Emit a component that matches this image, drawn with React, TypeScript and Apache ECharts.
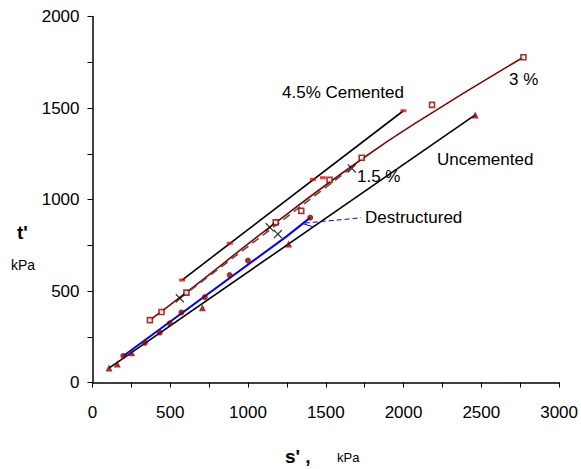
import React, { useEffect, useRef } from "react";
import * as echarts from "echarts";

// s' (kPa), t' (kPa)
const uncementedLine: number[][] = [[106, 79], [2461, 1462]];
const uncementedPoints: number[][] = [[106, 79], [159, 101], [252, 163], [707, 409], [1261, 757], [2461, 1462]];

const cem45Line: number[][] = [[576, 560], [1999, 1485]];
const cem45Points: number[][] = [[576, 560], [883, 761], [1417, 1110], [1481, 1119], [1999, 1485]];

const cem3Line: number[][] = [[369, 341], [600, 490], [1180, 875], [1730, 1220], [2100, 1430], [2770, 1777]];
const cem3Points: number[][] = [[369, 341], [444, 385], [604, 491], [1178, 875], [1342, 938], [1524, 1107], [1731, 1228], [2183, 1517], [2771, 1777]];

const cem15Line: number[][] = [[562, 460], [1660, 1170]];
const cem15Points: number[][] = [[562, 460], [1140, 848], [1192, 811], [1667, 1170]];

const destrLine: number[][] = [[198, 145], [1246, 797], [1400, 901]];
const destrPoints: number[][] = [[198, 145], [337, 217], [433, 273], [497, 323], [572, 383], [722, 466], [882, 587], [1000, 666], [1400, 901]];

const destrLeader: number[][] = [[1365, 871], [1727, 900]];
const destrArrow: number[][] = [[1352, 868], [1417, 851]];

const xTicks = { min: 0, max: 3000, interval: 500 };
const yTicks = { min: 0, max: 2000, interval: 500 };

const FONT = "Liberation Sans, Arial, sans-serif";
const CROSS = "path://M0,1L1,0L5,4L9,0L10,1L6,5L10,9L9,10L5,6L1,10L0,9L4,5Z";

export default function App() {
  const ref = useRef<HTMLDivElement>(null);
  useEffect(() => {
    if (!ref.current) return;
    const chart = echarts.init(ref.current, undefined, { renderer: "svg" });
    const lineS = (data: number[][], color: string, width: number, type: any = "solid", smooth = false) => ({
      type: "line",
      data,
      showSymbol: false,
      symbol: "none",
      smooth,
      lineStyle: { color, width, type },
      silent: true,
      z: 2,
    });
    const scat = (data: number[][], symbol: string, size: any, itemStyle: any) => ({
      type: "scatter",
      data,
      symbol,
      symbolSize: size,
      itemStyle,
      z: 3,
    });
    chart.setOption({
      animation: false,
      backgroundColor: "#fff",
      textStyle: { fontFamily: FONT },
      grid: { left: 92.5, top: 16.5, width: 467.5, height: 366, containLabel: false },
      xAxis: {
        type: "value",
        min: xTicks.min,
        max: xTicks.max,
        interval: xTicks.interval,
        axisLine: { show: true, onZero: false, lineStyle: { color: "#000", width: 1.5 } },
        axisTick: { show: true, length: 5, lineStyle: { color: "#000", width: 1 } },
        minorTick: { show: true, splitNumber: 2, length: 5, lineStyle: { color: "#000", width: 1 } },
        splitLine: { show: false },
        axisLabel: { color: "#000", fontSize: 17, margin: 21, fontFamily: FONT, formatter: (v: number) => String(v) },
      },
      yAxis: {
        type: "value",
        min: yTicks.min,
        max: yTicks.max,
        interval: yTicks.interval,
        axisLine: { show: true, onZero: false, lineStyle: { color: "#000", width: 1.5 } },
        axisTick: { show: true, length: 5, lineStyle: { color: "#000", width: 1 } },
        minorTick: { show: true, splitNumber: 2, length: 5, lineStyle: { color: "#000", width: 1 } },
        splitLine: { show: false },
        axisLabel: { color: "#000", fontSize: 17, margin: 13, fontFamily: FONT, formatter: (v: number) => String(v) },
      },
      series: [
        lineS(uncementedLine, "#000", 1.6),
        lineS(cem45Line, "#000", 1.6),
        lineS(cem3Line, "#8b0000", 1.6, "solid", true),
        lineS(cem15Line, "#555", 1.6, [8, 5]),
        lineS(destrLine, "#0000ff", 2),
        lineS(destrLeader, "#0000ff", 1, [5, 3]),
        lineS(destrArrow, "#0000ff", 1),
        scat(uncementedPoints, "triangle", 7, { color: "#8b0000" }),
        scat(cem45Points, "rect", [6, 3], { color: "#ff0000" }),
        scat(cem3Points, "rect", 5, { color: "#fff", borderColor: "#8b0000", borderWidth: 1.6 }),
        scat(cem15Points, CROSS, 9, { color: "#000" }),
        scat(destrPoints, "circle", 6, { color: "#8b0000" }),
      ],
      graphic: [
        { type: "text", left: 282, top: 84, style: { text: "4.5% Cemented", font: `17px ${FONT}`, fill: "#000" } },
        { type: "text", left: 509, top: 71, style: { text: "3 %", font: `17px ${FONT}`, fill: "#000" } },
        { type: "text", left: 437, top: 151, style: { text: "Uncemented", font: `17px ${FONT}`, fill: "#000" } },
        { type: "text", left: 357, top: 168, style: { text: "1.5 %", font: `17px ${FONT}`, fill: "#000" } },
        { type: "text", left: 365, top: 209, style: { text: "Destructured", font: `17px ${FONT}`, fill: "#000" } },
        { type: "text", left: 17, top: 223, style: { text: "t'", font: `bold 19px ${FONT}`, fill: "#000" } },
        { type: "text", left: 11, top: 258, style: { text: "kPa", font: `14px ${FONT}`, fill: "#000" } },
        { type: "text", left: 285, top: 447, style: { text: "s' ,", font: `bold 19px ${FONT}`, fill: "#000" } },
        { type: "text", left: 337, top: 451, style: { text: "kPa", font: `13px ${FONT}`, fill: "#000" } },
      ],
    });
    return () => chart.dispose();
  }, []);
  return (
    <div style={{ position: "absolute", left: 0, top: 0, width: 581, height: 469, background: "#fff" }}>
      <div ref={ref} style={{ width: 581, height: 469 }} />
    </div>
  );
}
